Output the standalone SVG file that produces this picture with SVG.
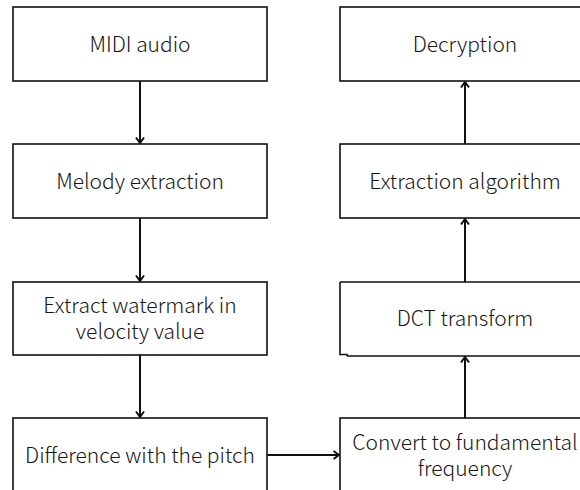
<svg xmlns="http://www.w3.org/2000/svg" width="580" height="490" viewBox="0 0 580 490">
  <defs>
    <style>
      .box { fill: #ffffff; stroke: #111111; stroke-width: 1.6; }
      .label { font-family: "Noto Sans CJK SC", "Noto Sans", sans-serif; font-size: 21px; font-weight: 300; fill: #161616; text-anchor: middle; }
      .link { fill: none; stroke: #111111; stroke-width: 2; }
      .head { fill: none; stroke: #111111; stroke-width: 2; }
    </style>
    <marker id="arrow" viewBox="0 0 10 10" refX="9" refY="5" markerWidth="10" markerHeight="10" markerUnits="userSpaceOnUse" orient="auto">
      <path class="head" d="M 3.5 1 L 9 5 L 3.5 9"/>
    </marker>
  </defs>
  <rect width="580" height="490" fill="#ffffff"/>

  <!-- left column -->
  <g id="midi-audio">
    <rect class="box" x="13" y="7" width="254" height="74"/>
    <text class="label" x="140" y="52">MIDI audio</text>
  </g>
  <g id="melody-extraction">
    <rect class="box" x="13" y="144" width="254" height="74"/>
    <text class="label" x="140" y="189">Melody extraction</text>
  </g>
  <g id="extract-watermark">
    <rect class="box" x="13" y="282" width="254" height="73"/>
    <text class="label" x="140" y="312.5">Extract watermark in</text>
    <text class="label" x="140" y="338.5">velocity value</text>
  </g>
  <g id="pitch-difference">
    <rect class="box" x="13" y="418" width="254" height="80"/>
    <text class="label" x="140" y="463">Difference with the pitch</text>
  </g>

  <!-- right column -->
  <g id="decryption">
    <rect class="box" x="340" y="7" width="260" height="74"/>
    <text class="label" x="465" y="52">Decryption</text>
  </g>
  <g id="extraction-algorithm">
    <rect class="box" x="340" y="144" width="260" height="74"/>
    <text class="label" x="465" y="189">Extraction algorithm</text>
  </g>
  <g id="dct-transform">
    <path class="box" d="M 340 282 H 600 V 356 H 347 M 347 356 V 354.5 H 340 V 282"/>
    <text class="label" x="465" y="326">DCT transform</text>
  </g>
  <g id="fundamental-frequency">
    <rect class="box" x="340" y="418" width="260" height="80"/>
    <text class="label" x="465" y="449.5">Convert to fundamental</text>
    <text class="label" x="465" y="475.5">frequency</text>
  </g>

  <!-- connectors -->
  <g id="connectors">
    <line class="link" x1="140" y1="81" x2="140" y2="143" marker-end="url(#arrow)"/>
    <line class="link" x1="140" y1="218" x2="140" y2="281" marker-end="url(#arrow)"/>
    <line class="link" x1="140" y1="355" x2="140" y2="417" marker-end="url(#arrow)"/>
    <line class="link" x1="267" y1="455" x2="339" y2="455" marker-end="url(#arrow)"/>
    <line class="link" x1="465" y1="418" x2="465" y2="357" marker-end="url(#arrow)"/>
    <line class="link" x1="465" y1="282" x2="465" y2="219" marker-end="url(#arrow)"/>
    <line class="link" x1="465" y1="144" x2="465" y2="82" marker-end="url(#arrow)"/>
  </g>
</svg>
